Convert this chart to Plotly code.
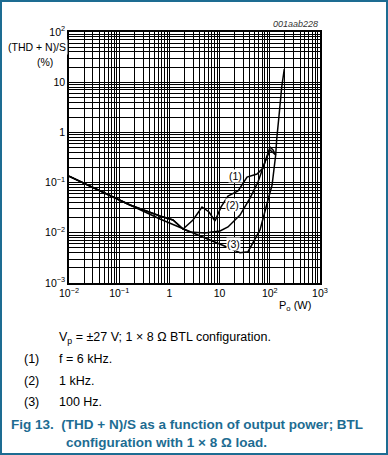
import math
import plotly.graph_objects as go

# ---- data ----
p_3 = [0.01, 0.0415, 0.164, 0.65, 2.05, 6.4, 14, 25.5, 36.8, 63.8, 92, 111, 131, 137, 154.5, 172.6, 194.5]
thd_3 = [0.135, 0.068, 0.0358, 0.0188, 0.0114, 0.0072, 0.0052, 0.004, 0.0042, 0.0114, 0.045, 0.0895, 0.355, 0.71, 2.43, 8.0, 18.3]

p_1 = [0.01, 0.0415, 0.164, 0.65, 1.18, 1.87, 2.95, 4.46, 6.15, 8.1, 10.7, 14.7, 23.3, 35.2, 55.6, 73.3, 88, 101, 116, 131]
thd_1 = [0.135, 0.068, 0.0358, 0.0216, 0.018, 0.0119, 0.018, 0.0327, 0.026, 0.0172, 0.0327, 0.054, 0.068, 0.129, 0.148, 0.195, 0.355, 0.51, 0.446, 0.355]

p_2 = [0.01, 0.0415, 0.164, 0.65, 1.18, 1.87, 2.57, 5.1, 10.2, 14.7, 25.5, 40.3, 58.2, 80, 101, 131]
thd_2 = [0.135, 0.068, 0.0358, 0.0216, 0.018, 0.0119, 0.0104, 0.0099, 0.0109, 0.0131, 0.0226, 0.049, 0.103, 0.257, 0.446, 0.355]

x_tickvals = [0.01, 0.1, 1, 10, 100, 1000]
x_ticktext = ["10<sup>−2</sup>", "10<sup>−1</sup>", "1", "10", "10<sup>2</sup>", "10<sup>3</sup>"]
y_tickvals = [0.001, 0.01, 0.1, 1, 10, 100]
y_ticktext = ["10<sup>−3</sup>", "10<sup>−2</sup>", "10<sup>−1</sup>", "1", "10", "10<sup>2</sup>"]

curve_labels = ["(1)", "(2)", "(3)"]
label_p = [21.2, 17.7, 18.5]
label_thd = [0.135, 0.0358, 0.006]

notes = ["V<sub>p</sub> = ±27 V; 1 × 8 Ω BTL configuration.",
         "(1)", "f = 6 kHz.", "(2)", "1 kHz.", "(3)", "100 Hz."]
caption_1 = "Fig 13.  (THD + N)/S as a function of output power; BTL"
caption_2 = "configuration with 1 × 8 Ω load."

# ---- layout geometry ----
W, H = 388, 455
L, R, T, B = 69, 320, 32, 283
FONT = "Liberation Sans, Arial, sans-serif"
BLUE = "#1d6c92"


def px(x):
    return (x - L) / (R - L)


def py(y):
    return (B - y) / (B - T)


fig = go.Figure()
for xs, ys in [(p_3, thd_3), (p_2, thd_2), (p_1, thd_1)]:
    fig.add_trace(go.Scatter(x=xs, y=ys, mode="lines", line=dict(color="black", width=1.5),
                             showlegend=False, hoverinfo="skip"))

ann = []
for t, xv, yv in zip(curve_labels, label_p, label_thd):
    ann.append(dict(x=math.log10(xv), y=math.log10(yv), xref="x", yref="y", text=t, showarrow=False,
                    font=dict(size=10.5, color="black", family=FONT), bgcolor="white",
                    xanchor="center", yanchor="middle", borderpad=0))

ann += [
    dict(x=px(68), y=py(47), xref="paper", yref="paper", text="(THD + N)/S", showarrow=False,
         xanchor="right", yanchor="middle", font=dict(size=10.5, family=FONT, color="black"), bgcolor="white"),
    dict(x=px(45), y=py(62), xref="paper", yref="paper", text="(%)", showarrow=False,
         xanchor="center", yanchor="middle", font=dict(size=10.5, family=FONT, color="black"), bgcolor="white"),
    dict(x=px(295), y=py(306), xref="paper", yref="paper", text="P<sub>o</sub> (W)", showarrow=False,
         xanchor="center", yanchor="middle", font=dict(size=11, family=FONT, color="black")),
    dict(x=px(320), y=py(24), xref="paper", yref="paper", text="<i>001aab228</i>", showarrow=False,
         xanchor="right", yanchor="middle", font=dict(size=9, family=FONT, color="#333333")),
    dict(x=px(57), y=py(338), xref="paper", yref="paper", text=notes[0], showarrow=False,
         xanchor="left", yanchor="middle", font=dict(size=12.5, family=FONT, color="black")),
]
for i, yy in enumerate([359, 381, 402]):
    ann.append(dict(x=px(22), y=py(yy), xref="paper", yref="paper", text=notes[1 + 2 * i], showarrow=False,
                    xanchor="left", yanchor="middle", font=dict(size=12.5, family=FONT, color="black")))
    ann.append(dict(x=px(57), y=py(yy), xref="paper", yref="paper", text=notes[2 + 2 * i], showarrow=False,
                    xanchor="left", yanchor="middle", font=dict(size=12.5, family=FONT, color="black")))
ann.append(dict(x=px(9), y=py(424), xref="paper", yref="paper", text="<b>" + caption_1 + "</b>", showarrow=False,
                xanchor="left", yanchor="middle", font=dict(size=13.5, family=FONT, color=BLUE)))
ann.append(dict(x=px(64), y=py(443), xref="paper", yref="paper", text="<b>" + caption_2 + "</b>", showarrow=False,
                xanchor="left", yanchor="middle", font=dict(size=13.5, family=FONT, color=BLUE)))

axis_common = dict(type="log", showgrid=True, gridcolor="black", gridwidth=1,
                   showline=True, linecolor="black", linewidth=1.5, mirror=True,
                   ticks="", zeroline=False,
                   tickfont=dict(size=10.5, family=FONT, color="black"),
                   minor=dict(dtick="D1", showgrid=True, gridcolor="black", gridwidth=1, ticks=""))

fig.update_layout(
    width=W, height=H,
    margin=dict(l=L, r=W - R, t=T, b=H - B),
    paper_bgcolor="white", plot_bgcolor="white",
    xaxis=dict(range=[-2, 3], tickvals=x_tickvals, ticktext=x_ticktext, **axis_common),
    yaxis=dict(range=[-3, 2], tickvals=y_tickvals, ticktext=y_ticktext, **axis_common),
    annotations=ann,
    shapes=[dict(type="rect", xref="paper", yref="paper",
                 x0=px(1), x1=px(W - 1), y0=py(H - 1), y1=py(1),
                 line=dict(color=BLUE, width=2), layer="above")],
)

fig.write_html("out.html", config={"displayModeBar": False},
               post_script="document.body.style.margin='0';document.body.style.overflow='hidden';")
